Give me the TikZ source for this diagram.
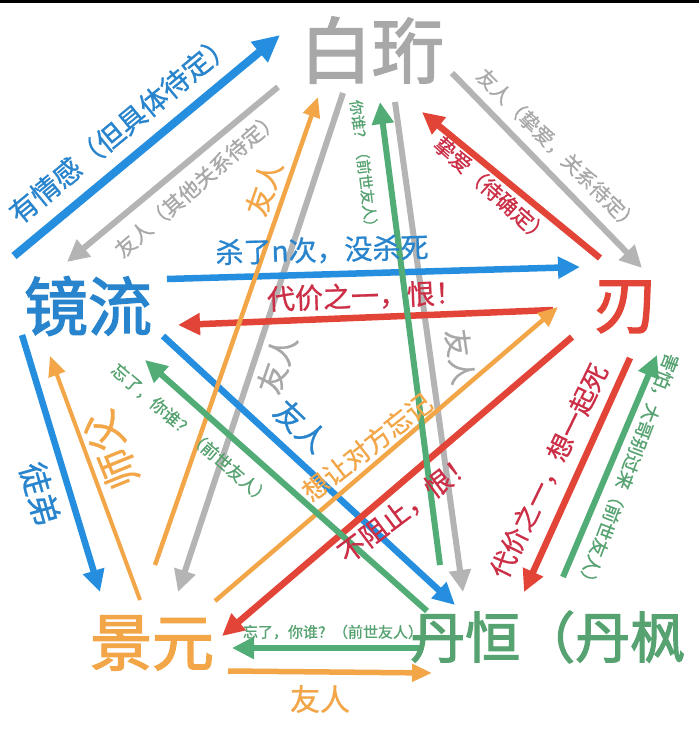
\documentclass[tikz,border=0pt]{standalone}
\usepackage{fontspec}
\newfontfamily\cjk{Noto Sans CJK SC}[FakeBold=0.8]
\newfontfamily\cjkfat{Noto Sans CJK SC}[FakeBold=2.2]
\usetikzlibrary{arrows.meta}

\definecolor{bhgray}{RGB}{180,180,180}
\definecolor{bhtext}{RGB}{168,168,168}
\definecolor{jlblue}{RGB}{38,142,222}
\definecolor{jltext}{RGB}{40,132,204}
\definecolor{renred}{RGB}{226,68,56}
\definecolor{redtext}{RGB}{204,46,70}
\definecolor{jyorange}{RGB}{242,166,72}
\definecolor{dhgreen}{RGB}{82,172,118}
\definecolor{dhtext}{RGB}{86,162,112}

\begin{document}
\begin{tikzpicture}[x=1pt,y=-1pt,
	rel/.style={line width=6.5pt,-{Triangle[length=22pt,width=21pt]}},
	thinrel/.style={line width=4.5pt,-{Triangle[length=20pt,width=17pt]}},
	lbl/.style={font={\cjk\fontsize{#1}{#1}\selectfont},inner sep=0pt},
	person/.style={font={\cjkfat\fontsize{#1}{#1}\selectfont},inner sep=0pt}]
	
	\fill [white] (0,0) rectangle (699,731);
	\fill [black] (0,0) rectangle (699,3);
	\useasboundingbox (0,0) rectangle (699,731);
	
	% end points
	\coordinate (jlbh0) at (14,256);  \coordinate (jlbh1) at (280,35);
	\coordinate (bhjl0) at (278,87);  \coordinate (bhjl1) at (67,262);
	\coordinate (jybh0) at (155,565); \coordinate (jybh1) at (318,97);
	\coordinate (bhjy0) at (343,93);  \coordinate (bhjy1) at (178,592);
	\coordinate (dhbh0) at (440,565); \coordinate (dhbh1) at (380,102);
	\coordinate (bhdh0) at (395,102); \coordinate (bhdh1) at (463,592);
	\coordinate (bhren0) at (452,73); \coordinate (bhren1) at (642,268);
	\coordinate (renbh0) at (600,258); \coordinate (renbh1) at (422,112);
	\coordinate (jlren0) at (167,279); \coordinate (jlren1) at (580,267);
	\coordinate (renjl0) at (553,310); \coordinate (renjl1) at (178,325);
	\coordinate (jldh0) at (163,336); \coordinate (jldh1) at (455,605);
	\coordinate (dhjl0) at (427,611); \coordinate (dhjl1) at (145,360);
	\coordinate (jyren0) at (215,601); \coordinate (jyren1) at (558,307);
	\coordinate (renjy0) at (572,337); \coordinate (renjy1) at (222,636);
	\coordinate (rendh0) at (630,358); \coordinate (rendh1) at (524,592);
	\coordinate (dhren0) at (563,577); \coordinate (dhren1) at (657,355);
	\coordinate (dhjy0) at (420,648); \coordinate (dhjy1) at (232,648);
	\coordinate (jydh0) at (228,671); \coordinate (jydh1) at (432,673);
	\coordinate (jljy0) at (22,335);  \coordinate (jljy1) at (100,592);
	\coordinate (jyjl0) at (140,600); \coordinate (jyjl1) at (50,356);
	
	% gray
	\draw [rel,bhgray,line width=6pt] (bhjl0) -- (bhjl1);
	\draw [rel,bhgray,line width=6pt] (bhjy0) -- (bhjy1);
	\draw [rel,bhgray,line width=6pt] (bhdh0) -- (bhdh1);
	\draw [rel,bhgray,line width=6pt] (bhren0) -- (bhren1);
	% blue
	\draw [rel,jlblue,line width=8pt,-{Triangle[length=27pt,width=25pt]}] (jlbh0) -- (jlbh1);
	\draw [rel,jlblue] (jlren0) -- (jlren1);
	\draw [rel,jlblue] (jldh0) -- (jldh1);
	\draw [rel,jlblue] (jljy0) -- (jljy1);
	% red
	\draw [rel,renred] (renbh0) -- (renbh1);
	\draw [rel,renred] (renjl0) -- (renjl1);
	\draw [rel,renred] (renjy0) -- (renjy1);
	\draw [rel,renred] (rendh0) -- (rendh1);
	% orange
	\draw [thinrel,jyorange] (jybh0) -- (jybh1);
	\draw [thinrel,jyorange] (jyren0) -- (jyren1);
	\draw [thinrel,jyorange,line width=5.5pt] (jydh0) -- (jydh1);
	\draw [thinrel,jyorange,line width=4pt] (jyjl0) -- (jyjl1);
	% green
	\draw [rel,dhgreen,line width=6pt] (dhbh0) -- (dhbh1);
	\draw [rel,dhgreen,line width=6pt] (dhjl0) -- (dhjl1);
	\draw [rel,dhgreen,line width=6pt] (dhren0) -- (dhren1);
	\draw [rel,dhgreen,line width=6pt] (dhjy0) -- (dhjy1);
	
	% names
	\node [person=72,text=bhtext] (bh) at (372,50) {白珩};
	\node [person=64,text=jltext] (jl) at (88,306) {镜流};
	\node [person=64,text=renred] (ren) at (626,307) {刃};
	\node [person=62,text=jyorange] (jy) at (152,643) {景元};
	\node [person=55,text=dhtext,anchor=west] (dh) at (410,637) {丹恒（丹枫};
	
	% labels
	\node [lbl=28,text=jltext,rotate=39.5] (t-jlbh) at (121,128) {有情感（但具体待定）};
	\node [lbl=21,text=bhtext,rotate=41] (t-bhjl) at (197,184) {友人（其他关系待定）};
	\node [lbl=28,text=jyorange,rotate=71] (t-jybh) at (264,188) {友人};
	\node [lbl=30,text=bhtext,rotate=71] (t-bhjy) at (277,364) {友人};
	\node [lbl=15,text=dhtext,rotate=-83] (t-dhbh) at (364,167) {你谁？（前世友人）};
	\node [lbl=28,text=bhtext,rotate=-82] (t-bhdh) at (460,357) {友人};
	\node [lbl=20,text=bhtext,rotate=-45] (t-bhren) at (558,150) {友人（挚爱，关系待定）};
	\node [lbl=21,text=redtext,rotate=-42] (t-renbh) at (492,190) {挚爱（待确定）};
	\node [lbl=28,text=jltext,rotate=1.5] (t-jlren) at (322,250) {杀了n次，没杀死};
	\node [lbl=28,text=redtext,rotate=2] (t-renjl) at (365,296) {代价之一，恨！};
	\node [lbl=30,text=jltext,rotate=-43] (t-jldh) at (301,426) {友人};
	\node [lbl=17,text=dhtext,rotate=-41] (t-dhjl) at (191,434) {忘了，你谁？（前世友人）};
	\node [lbl=26,text=jyorange,rotate=38] (t-jyren) at (367,447) {想让对方忘记};
	\node [lbl=27,text=redtext,rotate=37] (t-renjy) at (406,508) {不阻止，恨！};
	\node [lbl=26,text=redtext,rotate=64] (t-rendh) at (549,471) {代价之一，想一起死};
	\node [lbl=18,text=dhtext,rotate=-111] (t-dhren) at (628,472) {害怕，大哥别过来（前世友人）};
	\node [lbl=15,text=dhtext] (t-dhjy) at (333,632) {忘了，你谁？（前世友人）};
	\node [lbl=30,text=jyorange] (t-jydh) at (320,699) {友人};
	\node [lbl=32,text=jltext,rotate=-74] (t-jljy) at (40,494) {徒弟};
	\node [lbl=40,text=jyorange,rotate=112] (t-jyjl) at (111,450) {师父};
\end{tikzpicture}
\end{document}
